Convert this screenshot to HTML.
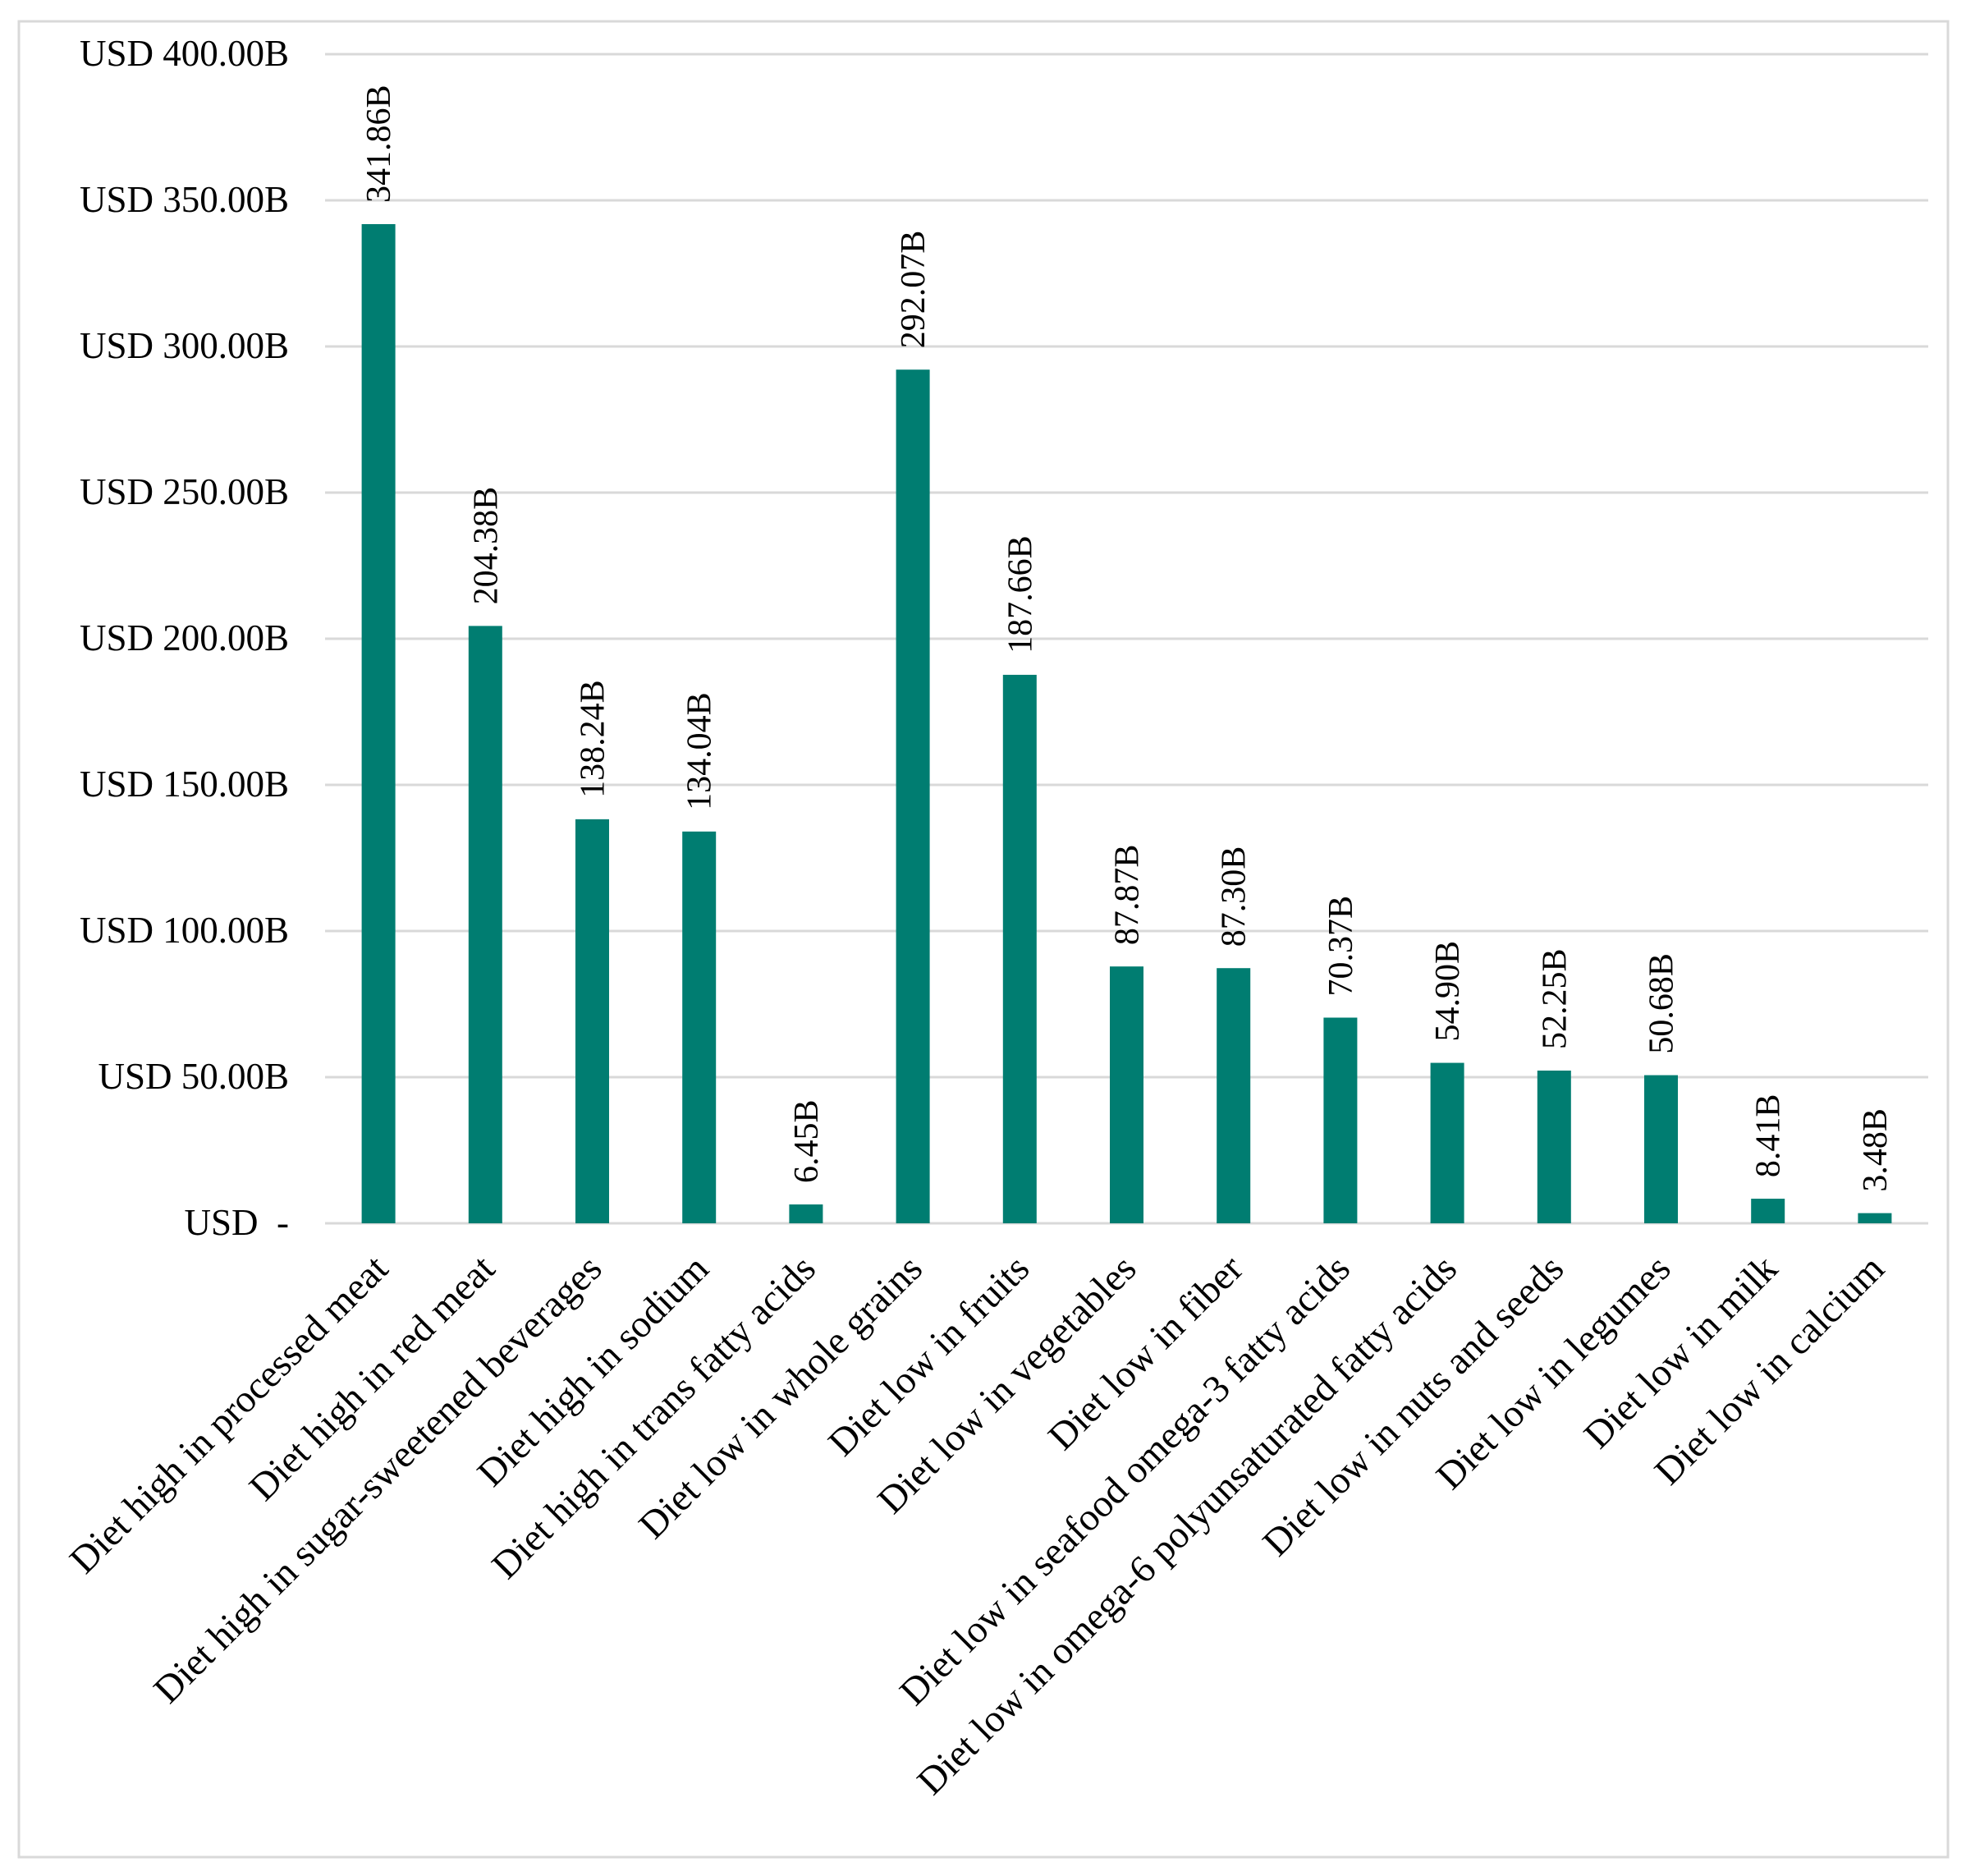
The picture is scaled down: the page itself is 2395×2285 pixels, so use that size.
<!DOCTYPE html>
<html><head><meta charset="utf-8"><style>
html,body{margin:0;padding:0;background:#fff;}
svg{display:block;font-family:"Liberation Serif",serif;}
</style></head><body>
<svg id="chart" width="2395" height="2285" xmlns="http://www.w3.org/2000/svg">
<rect x="23" y="26" width="2350" height="2236" fill="#fff" stroke="#d9d9d9" stroke-width="3"/>
<g id="grid"></g>
<g id="yaxis"></g>
<g id="bars"></g>
<g id="xaxis"></g>
</svg>
<script>
const categories = ["Diet high in processed meat","Diet high in red meat","Diet high in sugar-sweetened beverages","Diet high in sodium","Diet high in trans fatty acids","Diet low in whole grains","Diet low in fruits","Diet low in vegetables","Diet low in fiber","Diet low in seafood omega-3 fatty acids","Diet low in omega-6 polyunsaturated fatty acids","Diet low in nuts and seeds","Diet low in legumes","Diet low in milk","Diet low in calcium"];
const values = [341.86,204.38,138.24,134.04,6.45,292.07,187.66,87.87,87.30,70.37,54.90,52.25,50.68,8.41,3.48];
const valueLabels = ["341.86B","204.38B","138.24B","134.04B","6.45B","292.07B","187.66B","87.87B","87.30B","70.37B","54.90B","52.25B","50.68B","8.41B","3.48B"];
const yTicks = [0,50,100,150,200,250,300,350,400];
const yTickLabels = ["USD  -","USD 50.00B","USD 100.00B","USD 150.00B","USD 200.00B","USD 250.00B","USD 300.00B","USD 350.00B","USD 400.00B"];

const NS="http://www.w3.org/2000/svg";
const x0=396,x1=2349,yBase=1490,yTop=66,yMax=400;
const band=(x1-x0)/categories.length;
function y(v){return yBase-(v/yMax)*(yBase-yTop);}
function xc(i){return x0+band*(i+0.5);}
function mk(tag,attrs,parent){const e=document.createElementNS(NS,tag);for(const k in attrs)e.setAttribute(k,attrs[k]);parent.appendChild(e);return e;}
const grid=document.getElementById('grid'),yaxis=document.getElementById('yaxis'),bars=document.getElementById('bars'),xaxis=document.getElementById('xaxis');
yTicks.forEach((t,i)=>{
  const l=mk('line',{x1:x0,x2:x1,y1:y(t),y2:y(t),stroke:'#d9d9d9','stroke-width':3},grid);
  
  
  const tx=mk('text',{x:352,y:y(t)+14,'text-anchor':'end','font-size':45,fill:'#000'},yaxis);
  tx.textContent=yTickLabels[i];
  
  
  if(t===0){tx.setAttribute('xml:space','preserve');tx.style.whiteSpace='pre';}
});
const bw=41;
values.forEach((v,i)=>{
  const r=mk('rect',{x:xc(i)-bw/2,y:y(v),width:bw,height:yBase-y(v),fill:'#007d71'},bars);
  
  
  const cx=xc(i)+14, cy=y(v)-26;
  const vt=mk('text',{x:cx,y:cy,'font-size':42,fill:'#000',transform:`rotate(-90 ${cx} ${cy})`},bars);
  vt.textContent=valueLabels[i];
  
  
  const ax=xc(i)+14, ay=1548;
  const ct=mk('text',{x:ax,y:ay,'text-anchor':'end','font-size':47,fill:'#000',transform:`rotate(-45 ${ax} ${ay})`},xaxis);
  ct.textContent=categories[i];
  
  
});
</script>
</body></html>
